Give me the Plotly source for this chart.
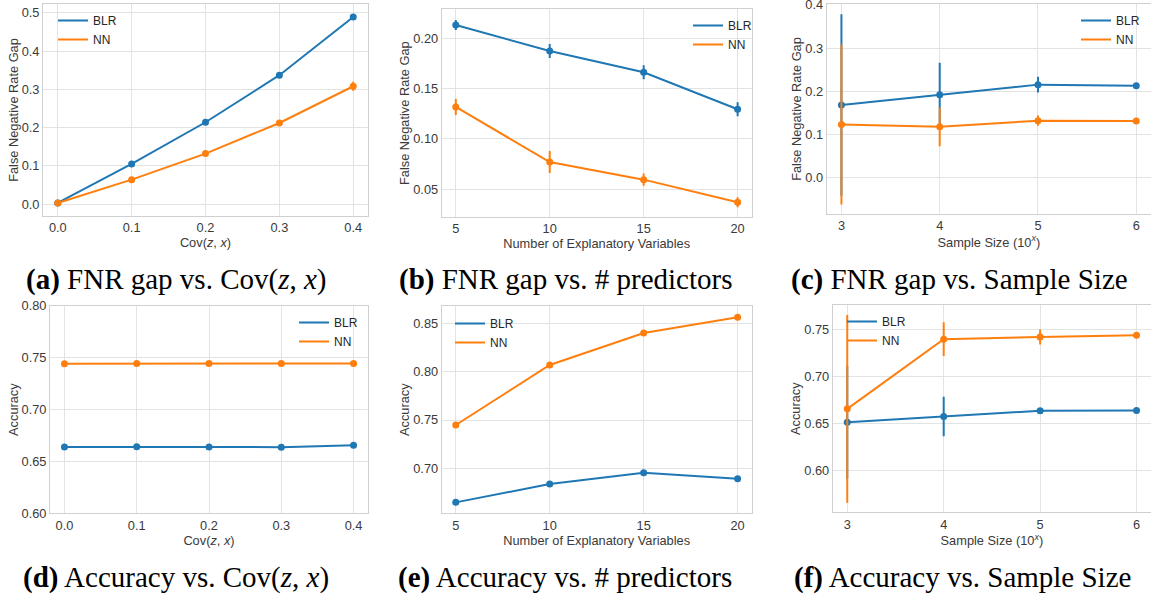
import plotly.graph_objects as go

W, H = 1151, 596
BLUE = "#1f77b4"
ORANGE = "#ff7f0e"

# ---------------- data ----------------
cov_x = [0.0, 0.1, 0.2, 0.3, 0.4]
fnr_cov_blr = [0.003, 0.105, 0.214, 0.337, 0.489]
fnr_cov_blr_err = [0.002, 0.003, 0.003, 0.003, 0.003]
fnr_cov_nn = [0.003, 0.064, 0.132, 0.212, 0.308]
fnr_cov_nn_err = [0.003, 0.004, 0.004, 0.006, 0.012]

pred_x = [5, 10, 15, 20]
fnr_pred_blr = [0.2132, 0.1874, 0.1662, 0.1295]
fnr_pred_blr_err = [0.005, 0.007, 0.007, 0.007]
fnr_pred_nn = [0.1318, 0.0771, 0.0596, 0.0371]
fnr_pred_nn_err = [0.008, 0.011, 0.006, 0.005]

size_x = [3, 4, 5, 6]
fnr_size_blr = [0.1685, 0.192, 0.2154, 0.213]
fnr_size_blr_err = [0.21, 0.074, 0.018, 0.004]
fnr_size_nn = [0.123, 0.1177, 0.132, 0.131]
fnr_size_nn_err = [0.185, 0.045, 0.012, 0.005]

acc_cov_blr = [0.664, 0.6643, 0.664, 0.6638, 0.6656]
acc_cov_nn = [0.7443, 0.7445, 0.7445, 0.7445, 0.7446]

acc_pred_blr = [0.6648, 0.6838, 0.6955, 0.6893]
acc_pred_nn = [0.7448, 0.8069, 0.8400, 0.8562]

acc_size_blr = [0.6516, 0.6576, 0.6637, 0.6640]
acc_size_blr_err = [0.06, 0.021, 0.003, 0.001]
acc_size_nn = [0.6658, 0.7401, 0.7425, 0.7443]
acc_size_nn_err = [0.1, 0.018, 0.008, 0.002]

captions = [
    "<b>(a)</b> FNR gap vs. Cov(<i>z</i>, <i>x</i>)",
    "<b>(b)</b> FNR gap vs. # predictors",
    "<b>(c)</b> FNR gap vs. Sample Size",
    "<b>(d)</b> Accuracy vs. Cov(<i>z</i>, <i>x</i>)",
    "<b>(e)</b> Accuracy vs. # predictors",
    "<b>(f)</b> Accuracy vs. Sample Size",
]

# ---------------- layout geometry (pixels) ----------------
panels = [
    # x0, x1, y0(top), y1(bottom)
    (43, 368, 4, 216),
    (441.7, 751.7, 9.3, 217),
    (826.7, 1151, 4, 214),
    (50, 368, 306, 513.3),
    (441.7, 751.7, 306, 513.3),
    (832.8, 1151, 305, 512.3),
]

fig = go.Figure()

def add_series(idx, x, y, err, color, name, legend):
    ax = "" if idx == 1 else str(idx)
    kw = {}
    if err is not None:
        kw["error_y"] = dict(type="data", array=err, visible=True, color=color,
                             thickness=2, width=0)
    fig.add_trace(go.Scatter(
        x=x, y=y, mode="lines+markers", name=name,
        line=dict(color=color, width=2),
        marker=dict(color=color, size=7),
        xaxis="x" + ax, yaxis="y" + ax, showlegend=False, **kw))
    fig.add_trace(go.Scatter(
        x=[None], y=[None], mode="lines", name=name,
        line=dict(color=color, width=2),
        xaxis="x" + ax, yaxis="y" + ax, showlegend=True, legend=legend))

series = [
    (cov_x, fnr_cov_blr, fnr_cov_blr_err, fnr_cov_nn, fnr_cov_nn_err),
    (pred_x, fnr_pred_blr, fnr_pred_blr_err, fnr_pred_nn, fnr_pred_nn_err),
    (size_x, fnr_size_blr, fnr_size_blr_err, fnr_size_nn, fnr_size_nn_err),
    (cov_x, acc_cov_blr, None, acc_cov_nn, None),
    (pred_x, acc_pred_blr, None, acc_pred_nn, None),
    (size_x, acc_size_blr, acc_size_blr_err, acc_size_nn, acc_size_nn_err),
]

for i, (x, b, be, n, ne) in enumerate(series):
    leg = "legend" if i == 0 else "legend%d" % (i + 1)
    add_series(i + 1, x, b, be, BLUE, "BLR", leg)
    add_series(i + 1, x, n, ne, ORANGE, "NN", leg)

x_titles = ["Cov(<i>z</i>, <i>x</i>)", "Number of Explanatory Variables",
            "Sample Size (10<sup><i>x</i></sup>)"] * 2
y_titles = ["False Negative Rate Gap"] * 3 + ["Accuracy"] * 3
x_ranges = [[-0.02, 0.42], [4.25, 20.75], [2.85, 6.15]] * 2
y_ranges = [[-0.031, 0.523], [0.0225, 0.2288], [-0.084, 0.402],
            [0.6, 0.8], [0.6535, 0.8679], [0.5555, 0.7765]]
x_ticks = [cov_x, pred_x, size_x] * 2
x_fmt = [".1f", "d", "d"] * 2
y_ticks = [
    [0.0, 0.1, 0.2, 0.3, 0.4, 0.5],
    [0.05, 0.10, 0.15, 0.20],
    [0.0, 0.1, 0.2, 0.3, 0.4],
    [0.60, 0.65, 0.70, 0.75, 0.80],
    [0.70, 0.75, 0.80, 0.85],
    [0.60, 0.65, 0.70, 0.75],
]
y_fmt = [".1f", ".2f", ".1f", ".2f", ".2f", ".2f"]

TICKFONT = dict(family="Liberation Sans, Arial, sans-serif", size=12.8, color="#3a3a3a")
TITLEFONT = dict(family="Liberation Sans, Arial, sans-serif", size=12.8, color="#3a3a3a")
GRID = "#e3e3e3"
EDGE = "#d0d0d0"

layout = {}
for i, (x0, x1, y0, y1) in enumerate(panels):
    ax = "" if i == 0 else str(i + 1)
    layout["xaxis" + ax] = dict(
        domain=[x0 / W, min(x1 / W, 1.0)], anchor="y" + ax,
        range=x_ranges[i], tickvals=x_ticks[i], tickformat=x_fmt[i],
        showgrid=True, gridcolor=GRID, gridwidth=1, zeroline=False,
        showline=True, linecolor=EDGE, linewidth=1, mirror=True,
        ticks="", tickfont=TICKFONT, automargin=False, ticklabeloverflow="allow",
        title=dict(text=x_titles[i], font=TITLEFONT, standoff=0),
    )
    layout["yaxis" + ax] = dict(
        domain=[1 - y1 / H, 1 - y0 / H], anchor="x" + ax,
        range=y_ranges[i], tickvals=y_ticks[i], tickformat=y_fmt[i],
        showgrid=True, gridcolor=GRID, gridwidth=1, zeroline=False,
        showline=True, linecolor=EDGE, linewidth=1, mirror=True,
        ticks="", tickfont=TICKFONT, automargin=False, ticklabeloverflow="allow",
        title=dict(text=y_titles[i], font=TITLEFONT, standoff=0),
    )

# legend positions: text-start x and first-row center y (pixels)
leg_pos = [(92, 21), (727, 26), (1115, 21), (333, 323), (489, 324), (881, 322)]
LEGFONT = dict(family="Liberation Sans, Arial, sans-serif", size=12, color="#262626")
for i, (tx, ty) in enumerate(leg_pos):
    key = "legend" if i == 0 else "legend%d" % (i + 1)
    layout[key] = dict(
        x=(tx - 39) / W, y=1 - (ty - 15) / H, xanchor="left", yanchor="top",
        bgcolor="rgba(0,0,0,0)", borderwidth=0, font=LEGFONT,
        tracegroupgap=0, itemwidth=30,
    )

cap_pos = [(176, 279), (565, 279), (959, 279), (176, 577), (565, 577), (962, 577)]
annotations = []
for (cx, cy), txt in zip(cap_pos, captions):
    annotations.append(dict(
        text=txt, x=cx / W, y=1 - cy / H, xref="paper", yref="paper",
        xanchor="center", yanchor="middle", showarrow=False,
        font=dict(family="Liberation Serif, DejaVu Serif, serif", size=29, color="#000000"),
    ))

fig.update_layout(
    width=W, height=H,
    margin=dict(l=0, r=0, t=0, b=0, autoexpand=False),
    paper_bgcolor="white", plot_bgcolor="white",
    annotations=annotations,
    **layout,
)

fig.write_html("out.html", config={"displayModeBar": False},
               post_script="document.body.style.margin='0';")
